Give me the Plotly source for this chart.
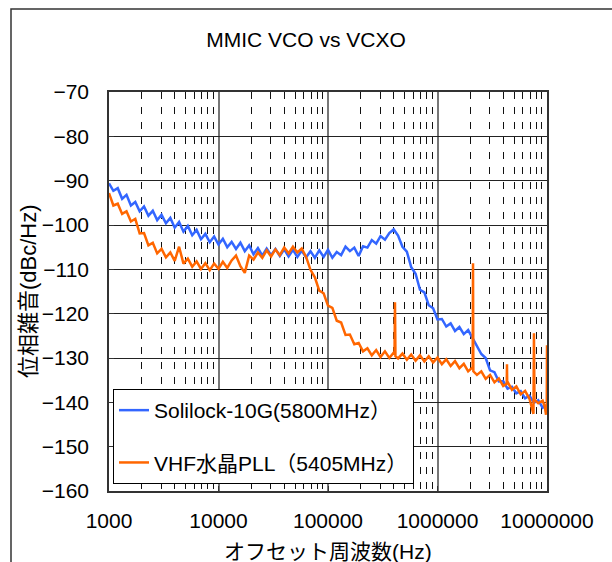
import plotly.graph_objects as go

# ---------------- data ----------------
title_text = "MMIC VCO vs VCXO"
x_title = "オフセット周波数(Hz)"
y_title = "位相雑音(dBc/Hz)"
name_blue = "Solilock-10G(5800MHz）"
name_orange = "VHF水晶PLL（5405MHz）"

x_tickvals = [1000, 10000, 100000, 1000000, 10000000]
x_ticktext = ["1000", "10000", "100000", "1000000", "10000000"]
y_tickvals = [-70, -80, -90, -100, -110, -120, -130, -140, -150, -160]

freq_blue = [
    1000, 1096, 1202, 1318, 1445, 1585, 1738, 1905, 2089, 2291, 2512, 2754, 3020,
    3311, 3631, 3981, 4365, 4786, 5248, 5754, 6310, 6918, 7586, 8318, 9120,
    10000, 10960, 12020, 13180, 14450, 15850, 17380, 19050, 20890, 22910, 25120,
    27540, 30200, 33110, 36310, 39810, 43650, 47860, 52480, 57540, 63100, 69180,
    75860, 83180, 91200,
    100000, 109600, 120200, 131800, 144500, 158500, 173800, 190500, 208900,
    229100, 251200, 275400, 302000, 331100, 363100, 398100, 436500, 478600,
    524800, 575400, 631000, 691800, 758600, 831800, 912000,
    1000000, 1096000, 1202000, 1318000, 1445000, 1585000, 1738000, 1905000,
    2089000, 2291000, 2512000, 2754000, 3020000, 3311000, 3631000, 3981000,
    4365000, 4786000, 5248000, 5754000, 6310000, 6918000, 7586000, 8318000,
    9120000, 10000000,
]
noise_blue = [
    -90.6, -92.3, -91.7, -94.1, -93.2, -95.6, -94.8, -96.9, -95.8, -97.9, -96.8,
    -98.9, -97.7, -99.6, -98.4, -100.6, -99.3, -101.5, -100.2, -102.3, -101.1,
    -103.2, -102.0, -103.9, -102.6,
    -104.4, -103.1, -105.0, -103.8, -105.4, -104.0, -105.9, -104.6, -106.6,
    -105.2, -106.9, -105.3, -106.8, -105.4, -107.0, -105.5, -107.1, -105.6,
    -107.2, -105.8, -107.3, -105.9, -107.4, -105.7, -107.2,
    -105.6, -107.4, -106.1, -106.8, -104.9, -105.9, -105.1, -107.0, -104.8,
    -105.1, -103.4, -104.2, -102.5, -103.3, -101.8, -101.0, -102.4, -104.9,
    -106.0, -109.5, -111.0, -114.6, -115.2, -118.1, -118.8,
    -121.3, -121.2, -122.9, -122.2, -123.9, -123.0, -124.6, -123.7, -125.5,
    -127.0, -129.1, -130.0, -132.8, -133.2, -135.3, -135.2, -136.9, -136.5,
    -138.0, -137.5, -139.1, -138.5, -140.1, -139.5, -141.2, -140.6,
]

freq_orange = [
    1000, 1096, 1202, 1318, 1445, 1585, 1738, 1905, 2089, 2291, 2512, 2754, 3020,
    3311, 3631, 3981, 4365, 4786, 5248, 5754, 6310, 6918, 7586, 8318, 9120,
    10000, 10960, 12020, 13180, 14450, 15850, 17380, 19050, 20890, 22910, 25120,
    27540, 30200, 33110, 36310, 39810, 43650, 47860, 52480, 57540, 63100, 69180,
    75860, 83180, 91200,
    100000, 109600, 120200, 131800, 144500, 158500, 173800, 190500, 208900,
    229100, 251200, 275400, 302000, 331100, 363100, 398100,
    405000, 409000, 413000,
    436500, 478600, 524800, 575400, 631000, 691800, 758600, 831800, 912000,
    1000000, 1096000, 1202000, 1318000, 1445000, 1585000, 1738000, 1905000,
    2089000,
    2095000, 2110000, 2125000,
    2291000, 2512000, 2754000, 3020000, 3311000, 3631000, 3981000,
    4290000, 4310000, 4330000,
    4365000, 4786000, 5248000, 5754000, 6310000, 6918000,
    7520000, 7600000, 7680000,
    8318000, 9120000,
    9550000, 9800000, 9950000, 10000000,
]
noise_orange = [
    -92.8, -95.6, -95.2, -97.5, -96.9, -99.2, -98.6, -101.9, -101.8, -104.6,
    -104.0, -106.4, -105.4, -107.3, -106.2, -108.1, -104.9, -108.7, -107.6,
    -109.4, -108.2, -109.9, -108.6, -110.2, -108.7,
    -109.9, -108.3, -109.7, -108.0, -106.9, -109.3, -110.8, -106.9, -107.8,
    -106.2, -107.4, -105.7, -107.1, -105.5, -106.8, -105.1, -106.4, -104.9,
    -106.2, -105.3, -107.2, -110.1, -111.8, -114.8, -115.4,
    -118.2, -118.7, -121.6, -122.0, -124.8, -124.7, -126.9, -126.6, -128.5,
    -127.8, -129.4, -128.2, -129.8, -128.5, -130.0, -128.8,
    -129.2, -117.4, -129.6,
    -130.1, -129.0, -130.4, -129.2, -130.6, -129.4, -130.8, -129.6, -131.0,
    -129.9, -131.4, -130.3, -131.8, -130.7, -132.3, -131.3, -133.0,
    -132.1,
    -132.4, -108.6, -133.0,
    -133.8, -133.0, -134.7, -133.8, -135.5, -134.6, -136.3,
    -135.8, -131.4, -136.0,
    -135.4, -137.2, -136.4, -138.2, -137.4, -139.2,
    -142.6, -124.4, -139.4,
    -140.2, -139.6,
    -141.0, -142.8, -140.5, -127.1,
]

# ---------------- figure ----------------
FONT = "Liberation Sans, Arial, Noto Sans CJK JP, sans-serif"
BLUE = "#3366FF"
ORANGE = "#FF6600"

fig = go.Figure()
fig.add_trace(go.Scatter(
    x=freq_blue, y=noise_blue, mode="lines", name=name_blue,
    line=dict(color=BLUE, width=2.5), legendgroup="a",
))
fig.add_trace(go.Scatter(
    x=freq_orange, y=noise_orange, mode="lines", name=name_orange,
    line=dict(color=ORANGE, width=2.5), legendgroup="b",
))

L, R, T, B = 109, 547, 92, 491
W, H = 612, 562

def px_to_paper_x(px):
    return (px - L) / (R - L)

def py_to_paper_y(py):
    return (B - py) / (B - T)

fig.update_layout(
    width=W, height=H,
    margin=dict(l=L, r=W - R, t=T, b=H - B, pad=0),
    paper_bgcolor="white", plot_bgcolor="white",
    font=dict(family=FONT, size=21, color="black"),
    title=dict(text=title_text, x=0.5, xanchor="center",
               y=1 - 40 / H, yanchor="middle",
               font=dict(family=FONT, size=21, color="black")),
    showlegend=True,
    legend=dict(
        x=px_to_paper_x(113), y=py_to_paper_y(389),
        xanchor="left", yanchor="top",
        bgcolor="white", bordercolor="black", borderwidth=1,
        font=dict(family=FONT, size=21, color="black"),
        traceorder="grouped", tracegroupgap=22, itemwidth=30,
    ),
)

fig.update_xaxes(
    type="log", range=[3, 7],
    tickvals=x_tickvals, ticktext=x_ticktext,
    showgrid=True, gridcolor="#777777", gridwidth=1.5,
    minor=dict(dtick="D1", showgrid=True, gridcolor="#111111",
               gridwidth=1, griddash="7px,8px"),
    showline=True, mirror=True, linecolor="#333333", linewidth=1.5,
    ticks="inside", ticklen=5, tickcolor="#333333",
    ticklabelstandoff=10,
    tickfont=dict(family=FONT, size=21, color="black"),
    zeroline=False,
)
fig.update_yaxes(
    range=[-160, -70], tickvals=y_tickvals,
    showgrid=True, gridcolor="#222222", gridwidth=1,
    showline=True, mirror=True, linecolor="#333333", linewidth=1.5,
    ticks="inside", ticklen=5, tickcolor="#333333",
    ticklabelstandoff=14,
    tickfont=dict(family=FONT, size=21, color="black"),
    zeroline=False,
)

# axis titles
fig.add_annotation(text=x_title, xref="paper", yref="paper",
                   x=px_to_paper_x(328), y=py_to_paper_y(551),
                   xanchor="center", yanchor="middle", showarrow=False,
                   font=dict(family=FONT, size=21, color="black"))
fig.add_annotation(text=y_title, xref="paper", yref="paper",
                   x=px_to_paper_x(28), y=py_to_paper_y(291),
                   xanchor="center", yanchor="middle", showarrow=False,
                   textangle=-90,
                   font=dict(family=FONT, size=22, color="black"))

# outer chart-area frame (left & top visible)
fig.add_shape(type="rect", xref="paper", yref="paper",
              x0=px_to_paper_x(11), x1=px_to_paper_x(640),
              y0=py_to_paper_y(600), y1=py_to_paper_y(9),
              line=dict(color="#333333", width=1.5), layer="below")

fig.write_html("out.html")
